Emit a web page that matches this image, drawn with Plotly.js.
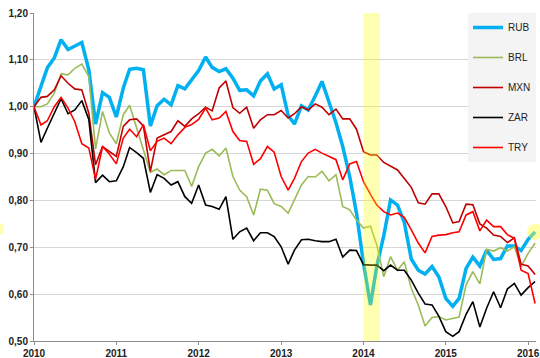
<!DOCTYPE html>
<html>
<head>
<meta charset="utf-8">
<script src="https://cdn.plot.ly/plotly-3.0.1.min.js"></script>
<style>html,body{margin:0;padding:0;background:#fff;}#chart{width:540px;height:358px;}</style>
</head>
<body>
<div id="chart"></div>
<script>
// Monthly observations, Jan 2010 .. Feb 2016 (index = 1.00 at Jan 2010)
const startYear = 2010;
const seriesNames = ["RUB", "BRL", "MXN", "ZAR", "TRY"];
const RUB = [1.000,1.042,1.083,1.104,1.143,1.122,1.129,1.137,1.079,0.963,1.030,1.020,
  0.978,1.040,1.080,1.082,1.079,0.959,1.002,1.016,1.004,1.045,1.038,1.057,
  1.077,1.106,1.084,1.075,1.081,1.061,1.035,1.036,1.023,1.055,1.070,1.038,
  1.047,0.981,0.963,1.002,0.993,1.023,1.054,1.010,0.966,0.915,0.851,0.773,
  0.666,0.577,0.660,0.725,0.801,0.790,0.753,0.675,0.651,0.643,0.659,0.637,
  0.591,0.574,0.591,0.655,0.679,0.660,0.694,0.674,0.676,0.703,0.703,0.693,
  0.717,0.733];
const BRL = [1.000,1.000,1.006,1.029,1.070,1.068,1.082,1.091,1.065,0.910,0.990,0.944,
  0.921,0.983,1.003,0.955,0.905,0.860,0.867,0.855,0.864,0.864,0.864,0.830,
  0.872,0.901,0.909,0.895,0.912,0.851,0.822,0.808,0.769,0.824,0.822,0.793,
  0.787,0.773,0.801,0.833,0.851,0.850,0.862,0.842,0.855,0.787,0.780,0.758,
  0.741,0.745,0.705,0.637,0.680,0.651,0.669,0.612,0.577,0.532,0.550,0.552,
  0.545,0.548,0.551,0.620,0.648,0.622,0.696,0.692,0.699,0.692,0.701,0.659,
  0.687,0.709];
const MXN = [1.000,1.020,1.022,1.036,1.066,1.050,1.038,1.036,0.986,0.876,0.915,0.904,
  0.894,0.958,0.972,0.974,0.959,0.862,0.933,0.940,0.947,0.970,0.958,0.974,
  0.985,0.999,0.991,1.040,1.055,0.998,0.986,0.999,0.954,0.972,0.983,0.983,
  0.992,0.976,0.985,1.000,0.993,1.006,0.999,0.983,0.995,0.974,0.974,0.952,
  0.904,0.897,0.897,0.881,0.874,0.865,0.847,0.828,0.795,0.792,0.814,0.814,
  0.787,0.752,0.755,0.792,0.791,0.750,0.741,0.726,0.723,0.710,0.720,0.664,
  0.660,0.642];
const ZAR = [1.000,0.924,0.954,0.986,1.017,0.985,0.993,1.013,0.973,0.838,0.854,0.840,
  0.842,0.872,0.913,0.902,0.890,0.817,0.855,0.847,0.833,0.840,0.808,0.794,
  0.833,0.790,0.787,0.781,0.808,0.717,0.733,0.741,0.714,0.731,0.731,0.723,
  0.701,0.664,0.694,0.716,0.717,0.714,0.712,0.712,0.717,0.679,0.694,0.693,
  0.663,0.662,0.662,0.650,0.662,0.651,0.651,0.630,0.602,0.579,0.577,0.553,
  0.520,0.510,0.520,0.557,0.584,0.530,0.570,0.605,0.571,0.611,0.623,0.598,
  0.614,0.627];
const TRY = [1.000,0.961,0.970,1.000,1.020,0.997,0.968,0.921,0.912,0.845,0.915,0.899,
  0.878,0.933,0.952,0.936,0.962,0.906,0.926,0.933,0.921,0.940,0.956,0.962,
  0.973,0.997,0.972,0.976,0.990,0.947,0.928,0.926,0.877,0.889,0.915,0.903,
  0.851,0.822,0.847,0.883,0.901,0.909,0.901,0.894,0.887,0.844,0.878,0.883,
  0.840,0.813,0.790,0.776,0.769,0.773,0.764,0.737,0.709,0.688,0.723,0.726,
  0.727,0.731,0.733,0.769,0.776,0.735,0.758,0.744,0.744,0.727,0.719,0.651,
  0.644,0.580];
const seriesColors = ["#00b0f0", "#9bbb59", "#c00000", "#000000", "#ff0000"];
const seriesWidths = [3.5, 1.6, 1.6, 1.6, 1.6];
const highlightStart = "2014-01-01";
const highlightEnd = "2014-03-15";
const yTicks = [0.5,0.6,0.7,0.8,0.9,1.0,1.1,1.2];

const values = [RUB, BRL, MXN, ZAR, TRY];
function monthDates(n) {
  const out = [];
  for (let i = 0; i < n; i++) {
    const y = startYear + Math.floor(i / 12);
    const m = (i % 12) + 1;
    out.push(y + "-" + String(m).padStart(2, "0") + "-01");
  }
  return out;
}
const dates = monthDates(RUB.length);

const traces = seriesNames.map((name, i) => ({
  type: "scatter", mode: "lines", name: name, x: dates, y: values[i],
  legendgroup: name,
  line: {color: seriesColors[i], width: seriesWidths[i]}
}));
// highlight marker at the last RUB point
traces.push({
  type: "scatter", mode: "markers", x: [dates[dates.length - 1]], y: [RUB[RUB.length - 1]],
  marker: {size: 16, color: "rgba(255,255,60,0.45)", line: {width: 0}},
  showlegend: false, hoverinfo: "skip", cliponaxis: false
});

const layout = {
  width: 540, height: 358,
  margin: {l: 34, r: 4, t: 13, b: 17},
  paper_bgcolor: "#ffffff", plot_bgcolor: "#ffffff",
  separators: ",.",
  showlegend: true,
  legend: {
    x: 1, xanchor: "right", y: 1, yanchor: "top",
    bgcolor: "#f4f4f4", borderwidth: 0,
    font: {family: "Liberation Sans, Arial, sans-serif", size: 10, color: "#222"},
    tracegroupgap: 11
  },
  xaxis: {
    type: "date",
    range: ["2010-01-01", "2016-02-05"],
    dtick: "M12", tick0: "2010-01-01", tickformat: "%Y",
    showgrid: false, zeroline: false,
    showline: true, linecolor: "#8c8c8c", linewidth: 1,
    ticks: "outside", ticklen: 3, tickcolor: "#8c8c8c",
    tickfont: {family: "Liberation Sans, Arial, sans-serif", size: 10, color: "#222", weight: "bold"}
  },
  yaxis: {
    range: [0.5, 1.2],
    tickvals: yTicks, tickformat: ".2f",
    showgrid: true, gridcolor: "#d6d6d6", gridwidth: 1,
    zeroline: false,
    showline: true, linecolor: "#8c8c8c", linewidth: 1,
    ticks: "outside", ticklen: 3, tickcolor: "#8c8c8c",
    tickfont: {family: "Liberation Sans, Arial, sans-serif", size: 10, color: "#222", weight: "bold"}
  },
  shapes: [
    {type: "rect", xref: "x", yref: "paper", x0: highlightStart, x1: highlightEnd, y0: 0, y1: 1,
     fillcolor: "#ffff00", opacity: 0.3, line: {width: 0}, layer: "above"},
    {type: "circle", xref: "paper", yref: "paper", x0: -0.078, x1: -0.06, y0: 0.322, y1: 0.36,
     fillcolor: "#ffff60", opacity: 0.5, line: {width: 0}}
  ]
};

Plotly.newPlot("chart", traces, layout, {staticPlot: true, displayModeBar: false});
</script>
</body>
</html>
